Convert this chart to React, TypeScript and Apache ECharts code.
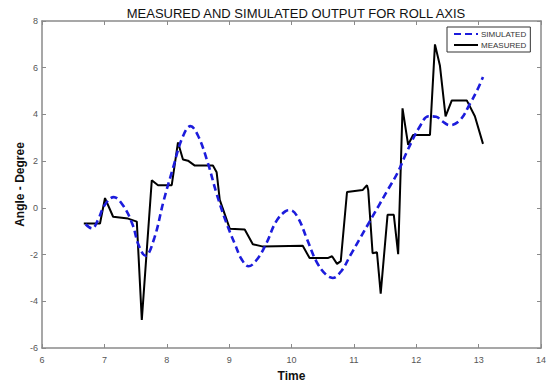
import React, { useEffect, useRef } from "react";
import * as echarts from "echarts";

const titleText = "MEASURED AND SIMULATED OUTPUT FOR ROLL AXIS";
const xTicks = [6, 7, 8, 9, 10, 11, 12, 13, 14];
const yTicks = [-6, -4, -2, 0, 2, 4, 6, 8];

const simTime = [6.7, 6.8, 6.9, 7.0, 7.15, 7.3, 7.45, 7.55, 7.66, 7.8, 7.95, 8.1, 8.25, 8.38, 8.5, 8.65, 8.8, 8.95, 9.1, 9.2, 9.31, 9.45, 9.6, 9.75, 9.9, 9.98, 10.1, 10.25, 10.4, 10.55, 10.66, 10.8, 10.95, 11.1, 11.25, 11.4, 11.55, 11.7, 11.85, 12.05, 12.2, 12.32, 12.42, 12.54, 12.7, 12.86, 12.97, 13.07];
const simAngle = [-0.7, -0.88, -0.5, 0.1, 0.46, 0.1, -0.7, -1.6, -2.05, -1.3, 0.3, 1.7, 3.0, 3.5, 3.1, 2.0, 0.6, -0.6, -1.6, -2.2, -2.5, -2.2, -1.5, -0.6, -0.15, -0.1, -0.4, -1.35, -2.3, -2.85, -3.0, -2.7, -2.0, -1.3, -0.6, 0.1, 0.8, 1.5, 2.4, 3.45, 3.92, 3.9, 3.7, 3.54, 3.75, 4.45, 5.0, 5.6];

const measTime = [6.67, 6.93, 7.01, 7.14, 7.38, 7.52, 7.6, 7.76, 7.86, 8.08, 8.18, 8.26, 8.34, 8.45, 8.74, 8.8, 8.85, 9.01, 9.25, 9.38, 9.53, 10.18, 10.29, 10.58, 10.65, 10.73, 10.79, 10.89, 11.14, 11.21, 11.23, 11.3, 11.37, 11.43, 11.54, 11.64, 11.71, 11.78, 11.87, 11.95, 12.22, 12.3, 12.38, 12.47, 12.57, 12.81, 12.94, 13.07];
const measAngle = [-0.67, -0.67, 0.42, -0.38, -0.46, -0.59, -4.8, 1.18, 0.97, 0.97, 2.8, 2.07, 2.02, 1.81, 1.81, 1.52, 0.34, -0.89, -0.93, -1.56, -1.65, -1.62, -2.15, -2.15, -2.07, -2.4, -2.28, 0.68, 0.76, 0.97, 0.76, -1.94, -1.9, -3.67, -0.3, -0.3, -1.98, 4.26, 2.7, 3.12, 3.12, 7.0, 6.08, 3.92, 4.6, 4.6, 3.92, 2.74];

const axisGray = "#8a8a8a";
const labelGray = "#555";

export default function App() {
  const ref = useRef<HTMLDivElement>(null);
  useEffect(() => {
    document.body.style.margin = "0";
    const chart = echarts.init(ref.current!, null, { renderer: "svg" });
    const commonTick = { show: true, inside: true, length: 4, lineStyle: { color: axisGray, width: 1 } };
    const commonLine = { show: true, onZero: false, lineStyle: { color: axisGray, width: 1.5 } };
    chart.setOption({
      animation: false,
      backgroundColor: "#fff",
      title: {
        text: titleText,
        left: 291,
        textAlign: "center",
        top: 2,
        textStyle: { fontFamily: "Liberation Sans, Arial", fontSize: 13, fontWeight: "normal", color: "#111" },
      },
      grid: { left: 42, right: 12, top: 21, bottom: 34 },
      legend: {
        orient: "vertical",
        left: 447,
        top: 27,
        padding: [3, 4, 3, 6],
        itemGap: 3,
        itemWidth: 24,
        itemHeight: 9,
        borderColor: "#333",
        borderWidth: 1,
        backgroundColor: "#fff",
        itemStyle: { opacity: 0 },
        textStyle: { fontFamily: "Liberation Sans, Arial", fontSize: 8, color: "#333", padding: [0, 0, 0, -2] },
        data: ["SIMULATED", "MEASURED"],
      },
      xAxis: [
        {
          type: "value",
          min: 6,
          max: 14,
          interval: 1,
          position: "bottom",
          name: "Time",
          nameLocation: "middle",
          nameGap: 22,
          nameMoveOverlap: false,
          nameTextStyle: { fontFamily: "Liberation Sans, Arial", fontSize: 12, fontWeight: "bold", color: "#111" },
          axisLine: commonLine,
          axisTick: commonTick,
          axisLabel: { color: labelGray, fontSize: 9, margin: 7, fontFamily: "Liberation Sans, Arial" },
          splitLine: { show: false },
        },
        {
          type: "value",
          min: 6,
          max: 14,
          interval: 1,
          position: "top",
          axisLine: commonLine,
          axisTick: commonTick,
          axisLabel: { show: false },
          splitLine: { show: false },
        },
      ],
      yAxis: [
        {
          type: "value",
          min: -6,
          max: 8,
          interval: 2,
          position: "left",
          name: "Angle - Degree",
          nameLocation: "middle",
          nameGap: 16,
          nameMoveOverlap: false,
          nameTextStyle: { fontFamily: "Liberation Sans, Arial", fontSize: 12, fontWeight: "bold", color: "#111" },
          axisLine: commonLine,
          axisTick: commonTick,
          axisLabel: { color: labelGray, fontSize: 9, margin: 4, fontFamily: "Liberation Sans, Arial" },
          splitLine: { show: false },
        },
        {
          type: "value",
          min: -6,
          max: 8,
          interval: 2,
          position: "right",
          axisLine: commonLine,
          axisTick: commonTick,
          axisLabel: { show: false },
          splitLine: { show: false },
        },
      ],
      series: [
        {
          name: "SIMULATED",
          type: "line",
          smooth: 0.4,
          symbol: "none",
          data: simTime.map((t, i) => [t, simAngle[i]]),
          lineStyle: { color: "#1c1cdc", width: 2.6, type: [7, 4] },
          itemStyle: { color: "#1c1cdc" },
          z: 3,
        },
        {
          name: "MEASURED",
          type: "line",
          symbol: "none",
          data: measTime.map((t, i) => [t, measAngle[i]]),
          lineStyle: { color: "#000", width: 2 },
          itemStyle: { color: "#000" },
          z: 2,
        },
      ],
    });
    return () => chart.dispose();
  }, []);
  return (
    <div
      ref={ref}
      style={{ position: "absolute", left: 0, top: 0, width: 553, height: 387 }}
    />
  );
}
